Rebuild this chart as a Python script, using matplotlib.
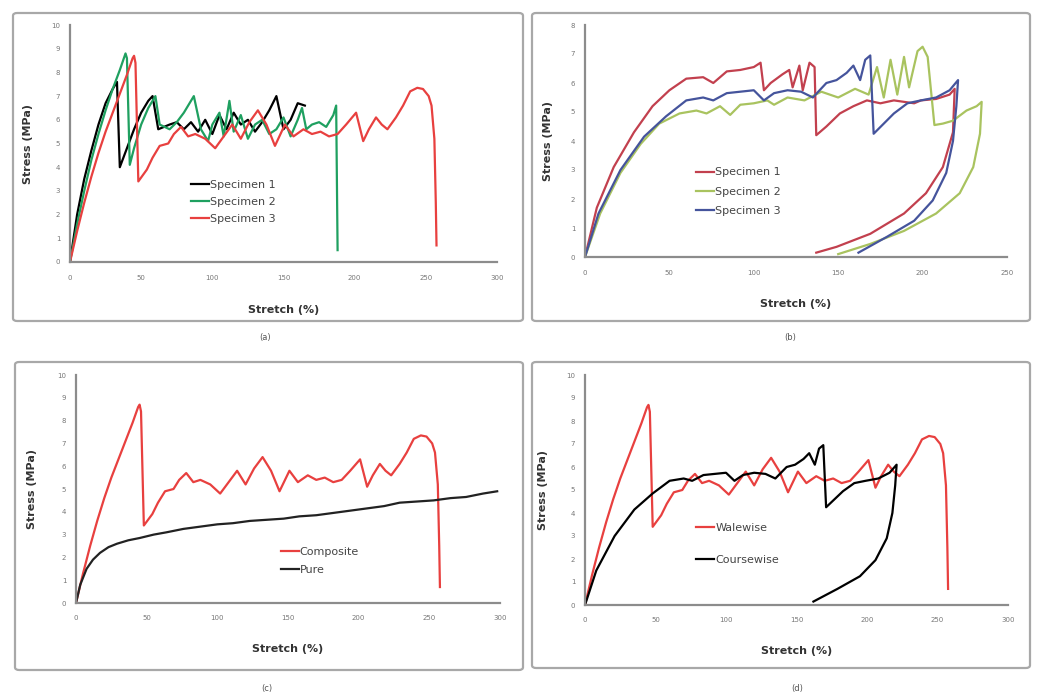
import matplotlib
matplotlib.use('Agg')
import matplotlib.pyplot as plt
from matplotlib.patches import FancyBboxPatch

# ---- data ----
# (a) walewise specimens, also used in (c) composite and (d) walewise
spec1_x = [0, 5, 10, 15, 20, 25, 30, 33, 35, 40, 45, 50, 55, 58, 62, 66, 70, 75, 80, 85, 90, 95,
           100, 105, 110, 115, 120, 125, 130, 135, 140, 145, 150, 155, 160, 165]
spec1_y = [0, 2.0, 3.5, 4.7, 5.8, 6.7, 7.3, 7.6, 4.0, 4.8, 5.6, 6.3, 6.8, 7.0, 5.6, 5.7, 5.8, 5.9,
           5.6, 5.9, 5.5, 6.0, 5.4, 6.2, 5.6, 6.3, 5.8, 6.0, 5.5, 5.9, 6.4, 7.0, 5.6, 6.0, 6.7, 6.6]

spec2_x = [0, 5, 10, 15, 20, 25, 30, 35, 39, 40, 42, 45, 50, 55, 60, 63, 70, 75, 80, 87, 92, 97,
           100, 105, 108, 112, 115, 120, 125, 130, 135, 140, 145, 150, 155, 160, 163, 166, 170,
           175, 180, 185, 187, 188]
spec2_y = [0, 1.6, 3.0, 4.3, 5.4, 6.4, 7.3, 8.1, 8.8, 8.6, 4.1, 4.8, 5.8, 6.5, 7.0, 5.8, 5.6,
           5.9, 6.3, 7.0, 5.6, 5.1, 5.8, 6.3, 5.3, 6.8, 5.5, 6.2, 5.2, 5.8, 6.0, 5.4, 5.6, 6.1,
           5.3, 6.0, 6.5, 5.6, 5.8, 5.9, 5.7, 6.2, 6.6, 0.5]

comp_x = [0, 5, 10, 15, 20, 25, 30, 35, 40, 44, 45, 46, 48, 54, 58, 63, 69, 73, 78, 83, 88, 95,
          102, 108, 114, 120, 126, 132, 138, 144, 151, 157, 164, 170, 176, 182, 188, 194, 201,
          206, 210, 215, 219, 223, 229, 234, 239, 244, 248, 252, 254, 256, 257, 257.5]
comp_y = [0, 1.3, 2.5, 3.6, 4.6, 5.5, 6.3, 7.1, 7.9, 8.6, 8.7, 8.4, 3.4, 3.9, 4.4, 4.9, 5.0, 5.4,
          5.7, 5.3, 5.4, 5.2, 4.8, 5.3, 5.8, 5.2, 5.9, 6.4, 5.8, 4.9, 5.8, 5.3, 5.6, 5.4, 5.5,
          5.3, 5.4, 5.8, 6.3, 5.1, 5.6, 6.1, 5.8, 5.6, 6.1, 6.6, 7.2, 7.35, 7.3, 7.0, 6.6, 5.2,
          2.5, 0.7]

# (b) coursewise specimens, specimen 3 also used in (d) coursewise
b1_x = [0, 7, 17, 29, 40, 50, 60, 70, 76, 84, 92, 100, 104, 106, 110, 117, 121, 123, 127, 129,
        133, 136, 137, 143, 151, 159, 167, 175, 183, 195, 199, 208, 216, 219,
        218, 212, 202, 189, 169, 149, 137]
b1_y = [0, 1.7, 3.1, 4.3, 5.2, 5.75, 6.15, 6.2, 6.0, 6.4, 6.45, 6.55, 6.7, 5.75, 6.0, 6.3, 6.45,
        5.85, 6.6, 5.75, 6.7, 6.55, 4.2, 4.5, 4.95, 5.2, 5.4, 5.3, 5.4, 5.3, 5.4, 5.45, 5.6, 5.8,
        4.3, 3.1, 2.2, 1.5, 0.8, 0.35, 0.15]

b2_x = [0, 9, 21, 33, 44, 56, 66, 72, 80, 86, 92, 100, 108, 112, 120, 130, 140, 150, 160, 168,
        173, 177, 181, 185, 189, 192, 197, 200, 203, 207, 212, 218, 226, 232, 235,
        234, 230, 222, 208, 189, 169, 150]
b2_y = [0, 1.5, 2.9, 3.9, 4.6, 4.95, 5.05, 4.95, 5.2, 4.9, 5.25, 5.3, 5.4, 5.25, 5.5, 5.4, 5.7,
        5.5, 5.8, 5.6, 6.55, 5.5, 6.8, 5.6, 6.9, 5.85, 7.1, 7.25, 6.9, 4.55, 4.6, 4.7, 5.05, 5.2,
        5.35, 4.25, 3.1, 2.2, 1.5, 0.9, 0.45, 0.1]

b3_x = [0, 8, 21, 35, 48, 60, 70, 76, 84, 92, 100, 106, 112, 120, 128, 135, 143, 149, 155, 159,
        163, 166, 169, 171, 177, 183, 191, 199, 208, 216, 221,
        220, 218, 214, 206, 195, 179, 162]
b3_y = [0, 1.5, 3.0, 4.15, 4.85, 5.4, 5.5, 5.4, 5.65, 5.7, 5.75, 5.4, 5.65, 5.75, 5.7, 5.5, 6.0,
        6.1, 6.35, 6.6, 6.1, 6.8, 6.95, 4.25, 4.6, 4.95, 5.3, 5.4, 5.5, 5.75, 6.1,
        5.2, 4.0, 2.9, 1.95, 1.25, 0.7, 0.15]

# (c) pure material
pure_x = [0, 3, 7.5, 12, 17, 23, 29, 37, 45, 55, 64, 76, 88, 100, 111, 123, 135, 147, 158, 170,
          182, 194, 206, 218, 229, 241, 253, 265, 276, 288, 298]
pure_y = [0, 0.8, 1.5, 1.9, 2.2, 2.45, 2.6, 2.75, 2.85, 3.0, 3.1, 3.25, 3.35, 3.45, 3.5, 3.6,
          3.65, 3.7, 3.8, 3.85, 3.95, 4.05, 4.15, 4.25, 4.4, 4.45, 4.5, 4.6, 4.65, 4.8, 4.9]

RED = '#e8403f'
GREEN = '#1fa060'
RED_B = '#c2404e'
OLIVE = '#a9c35f'
BLUE = '#45549c'

W, H = 1038, 698
fig = plt.figure(figsize=(W / 100, H / 100), dpi=100)


def px_rect(l, t, r, b):
    return [l / W, 1 - b / H, (r - l) / W, (b - t) / H]


def frame(l, t, r, b):
    p = FancyBboxPatch((l / W, 1 - b / H), (r - l) / W, (b - t) / H,
                       boxstyle='round,pad=0,rounding_size=0.004',
                       transform=fig.transFigure, fill=False,
                       edgecolor='#a8a8a8', linewidth=1.6)
    fig.patches.append(p)


def style(ax, xmax, ymax, xstep):
    ax.set_xlim(0, xmax)
    ax.set_ylim(0, ymax)
    ax.set_xticks(range(0, xmax + 1, xstep))
    ax.set_yticks(range(0, ymax + 1))
    for s in ['top', 'right']:
        ax.spines[s].set_visible(False)
    for s in ['left', 'bottom']:
        ax.spines[s].set_color('#8c8c8c')
        ax.spines[s].set_linewidth(1.6)
    ax.tick_params(length=0, labelsize=5, colors='#777777')
    ax.tick_params(axis='x', pad=9)
    ax.tick_params(axis='y', pad=7)
    ax.set_xlabel('Stretch (%)', fontsize=8, fontweight='bold', color='#333333')
    ax.set_ylabel('Stress (MPa)', fontsize=8, fontweight='bold', color='#333333')
    ax.xaxis.set_label_coords(0.5, -0.18)
    ax.set_facecolor('none')


def legend(ax, anchor, spacing):
    ax.legend(loc='upper left', bbox_to_anchor=anchor, frameon=False, fontsize=8,
              handlelength=1.6, handletextpad=0.1, labelspacing=spacing, borderpad=0,
              labelcolor='#444444')


# (a)
frame(13, 13, 523, 321)
ax = fig.add_axes(px_rect(70, 25, 497, 262))
ax.plot(spec1_x, spec1_y, color='black', lw=1.6, label='Specimen 1')
ax.plot(spec2_x, spec2_y, color=GREEN, lw=1.6, label='Specimen 2')
ax.plot(comp_x, comp_y, color=RED, lw=1.6, label='Specimen 3')
style(ax, 300, 10, 50)
ax.yaxis.set_label_coords(-0.087, 0.5)
legend(ax, (0.27, 0.37), 0.65)
fig.text(265 / W, 1 - 338 / H, '(a)', ha='center', va='center', fontsize=6, color='#555555')

# (b)
frame(532, 13, 1030, 321)
ax = fig.add_axes(px_rect(585, 25, 1007, 257))
ax.plot(b1_x, b1_y, color=RED_B, lw=1.6, label='Specimen 1')
ax.plot(b2_x, b2_y, color=OLIVE, lw=1.6, label='Specimen 2')
ax.plot(b3_x, b3_y, color=BLUE, lw=1.6, label='Specimen 3')
style(ax, 250, 8, 50)
ax.yaxis.set_label_coords(-0.076, 0.5)
legend(ax, (0.25, 0.41), 0.85)
fig.text(790 / W, 1 - 338 / H, '(b)', ha='center', va='center', fontsize=6, color='#555555')

# (c)
frame(15, 362, 523, 670)
ax = fig.add_axes(px_rect(76, 375, 500, 603))
ax.plot(comp_x, comp_y, color=RED, lw=1.6, label='Composite')
ax.plot(pure_x, pure_y, color='#222222', lw=1.6, label='Pure')
style(ax, 300, 10, 50)
ax.yaxis.set_label_coords(-0.092, 0.5)
legend(ax, (0.47, 0.27), 0.75)
fig.text(267 / W, 1 - 689 / H, '(c)', ha='center', va='center', fontsize=6, color='#555555')

# (d)
frame(532, 362, 1030, 668)
ax = fig.add_axes(px_rect(585, 375, 1008, 605))
ax.plot(comp_x, comp_y, color=RED, lw=1.6, label='Walewise')
ax.plot(b3_x, b3_y, color='black', lw=1.6, label='Coursewise')
style(ax, 300, 10, 50)
ax.yaxis.set_label_coords(-0.087, 0.5)
legend(ax, (0.25, 0.38), 2.0)
fig.text(797 / W, 1 - 688 / H, '(d)', ha='center', va='center', fontsize=6, color='#555555')

plt.savefig('out.png', dpi=100)
plt.close()
